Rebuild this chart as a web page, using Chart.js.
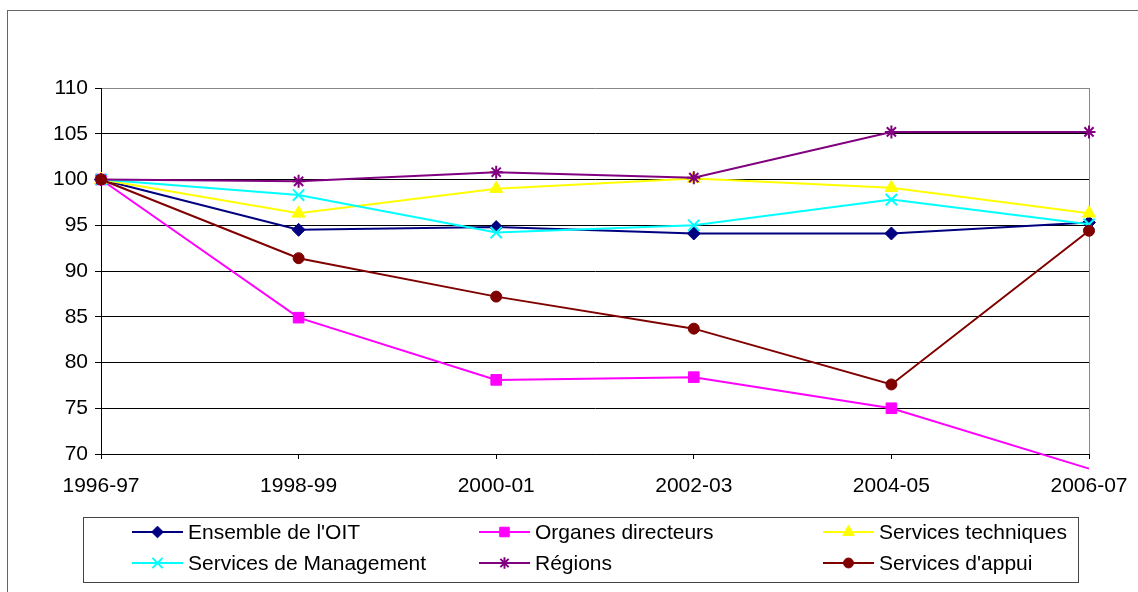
<!DOCTYPE html>
<html>
<head>
<meta charset="utf-8">
<script src="https://cdn.jsdelivr.net/npm/chart.js@4.4.0/dist/chart.umd.min.js"></script>
<style>
  html, body { margin: 0; padding: 0; background: #fff; }
  #chart { display: block; }
</style>
</head>
<body>
<canvas id="chart" width="1138" height="592"></canvas>
<script>
const periods = ['1996-97', '1998-99', '2000-01', '2002-03', '2004-05', '2006-07'];
const ensembleOit = [100, 94.5, 94.8, 94.1, 94.1, 95.3];
const organesDirecteurs = [100, 84.9, 78.1, 78.4, 75.0, 68.4];
const servicesTechniques = [100, 96.3, 99.0, 100.1, 99.1, 96.3];
const servicesManagement = [100, 98.3, 94.2, 95.0, 97.8, 95.1];
const regions = [100, 99.8, 100.8, 100.2, 105.2, 105.2];
const servicesAppui = [100, 91.4, 87.2, 83.7, 77.6, 94.4];
const yTicks = [70, 75, 80, 85, 90, 95, 100, 105, 110];

const FONT = "'Liberation Sans', Arial, sans-serif";

function series(label, data, color, style, radius, bw, i) {
  return {
    label: label,
    data: data,
    borderColor: color,
    backgroundColor: color,
    borderWidth: 2,
    pointStyle: style,
    pointRadius: radius,
    pointHoverRadius: radius,
    pointBackgroundColor: color,
    pointBorderColor: color,
    pointBorderWidth: bw,
    tension: 0,
    clip: false,
    order: 10 - i
  };
}

const datasets = [
  series("Ensemble de l'OIT", ensembleOit, '#000080', 'rectRot', 6.5, 1, 0),
  series('Organes directeurs', organesDirecteurs, '#FF00FF', 'rect', 7.5, 1, 1),
  series('Services techniques', servicesTechniques, '#FFFF00', 'triangle', 7.5, 1, 2),
  series('Services de Management', servicesManagement, '#00FFFF', 'crossRot', 8, 2, 3),
  series('Régions', regions, '#800080', 'star', 6.5, 2, 4),
  series("Services d'appui", servicesAppui, '#800000', 'circle', 5.5, 1, 5)
];

// frame around the whole chart
const framePlugin = {
  id: 'frame',
  beforeDraw(chart) {
    const ctx = chart.ctx;
    ctx.save();
    ctx.fillStyle = '#fff';
    ctx.fillRect(0, 0, chart.width, chart.height);
    ctx.strokeStyle = '#666';
    ctx.lineWidth = 1;
    ctx.strokeRect(7.5, 10.5, chart.width + 20, chart.height + 20);
    ctx.restore();
  }
};

// legend box: 3 columns x 2 rows, like the original
const boxLegend = {
  id: 'boxLegend',
  afterDraw(chart) {
    const ctx = chart.ctx;
    const cols = [132, 479, 823];
    const rows = [532, 563];
    ctx.save();
    ctx.strokeStyle = '#444';
    ctx.lineWidth = 1;
    ctx.strokeRect(83.5, 517.5, 995, 65);
    ctx.font = '21px ' + FONT;
    ctx.textBaseline = 'middle';
    ctx.textAlign = 'left';
    chart.data.datasets.forEach((ds, i) => {
      const x = cols[i % 3];
      const y = rows[Math.floor(i / 3)];
      ctx.strokeStyle = ds.borderColor;
      ctx.lineWidth = 2;
      ctx.beginPath();
      ctx.moveTo(x, y);
      ctx.lineTo(x + 51, y);
      ctx.stroke();
      ctx.fillStyle = ds.pointBackgroundColor;
      ctx.strokeStyle = ds.pointBorderColor;
      ctx.lineWidth = ds.pointBorderWidth;
      Chart.helpers.drawPoint(ctx, {
        pointStyle: ds.pointStyle,
        radius: ds.pointRadius * 0.9,
        rotation: 0,
        borderWidth: ds.pointBorderWidth
      }, x + 25.5, y);
      ctx.fillStyle = '#000';
      ctx.fillText(ds.label, x + 56, y + 1);
    });
    ctx.restore();
  }
};

new Chart(document.getElementById('chart'), {
  type: 'line',
  data: { labels: periods, datasets: datasets },
  options: {
    responsive: false,
    animation: false,
    devicePixelRatio: 1,
    layout: { padding: { top: 88, right: 49, left: 0, bottom: 0 } },
    plugins: {
      legend: { display: false },
      tooltip: { enabled: false }
    },
    scales: {
      x: {
        offset: false,
        afterFit: s => { s.height = 138; s.paddingRight = 0; s.paddingLeft = 0; },
        grid: {
          offset: false,
          drawTicks: true,
          tickLength: 5,
          tickColor: '#000',
          color: ctx => ctx.index === periods.length - 1 ? '#888' : 'rgba(0,0,0,0)'
        },
        border: { color: '#000', width: 1 },
        ticks: {
          color: '#000',
          padding: 15,
          maxRotation: 0,
          font: { family: FONT, size: 21 }
        }
      },
      y: {
        min: yTicks[0],
        max: yTicks[yTicks.length - 1],
        afterFit: s => { s.width = 101; },
        afterBuildTicks: s => { s.ticks = yTicks.map(v => ({ value: v })); },
        grid: {
          drawTicks: true,
          tickLength: 6,
          tickColor: '#000',
          color: ctx => (ctx.tick && ctx.tick.value === 110) ? '#888' : '#000'
        },
        border: { color: '#000', width: 1 },
        ticks: {
          color: '#000',
          padding: 7,
          font: { family: FONT, size: 21 }
        }
      }
    }
  },
  plugins: [framePlugin, boxLegend]
});
</script>
</body>
</html>
